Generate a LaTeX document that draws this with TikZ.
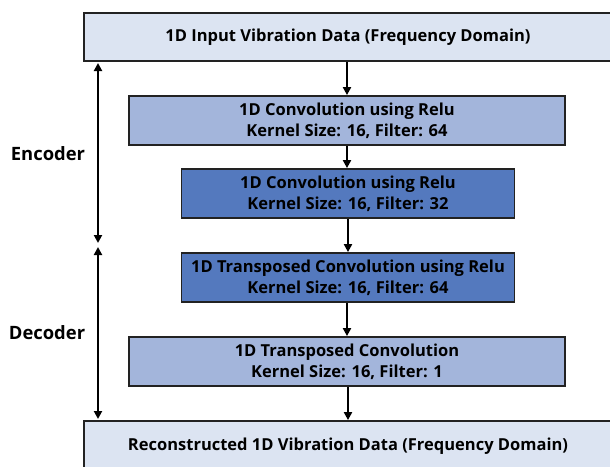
\documentclass[tikz,border=0pt]{standalone}
\usepackage{fontspec}
\setmainfont{Open Sans}
\usetikzlibrary{arrows.meta}
\definecolor{lightbox}{HTML}{DCE4F2}
\definecolor{midbox}{HTML}{A3B5DB}
\definecolor{darkbox}{HTML}{5479BE}
\definecolor{edge}{HTML}{222222}
\tikzset{
  blk/.style={draw=edge, line width=1.8pt, align=center, font=\bfseries\fontsize{16.5}{21}\selectfont, inner sep=0pt, minimum height=49pt},
  iobox/.style={blk, fill=lightbox, minimum width=528pt, minimum height=48pt},
  widebox/.style={blk, fill=midbox, minimum width=436pt},
  narrowbox/.style={blk, fill=darkbox, minimum width=333pt},
  flow/.style={line width=2.3pt, -{Triangle[length=8pt,width=8pt]}},
  span/.style={line width=2.3pt, {Triangle[length=8pt,width=8pt]}-{Triangle[length=8pt,width=8pt]}},
  lbl/.style={font=\bfseries\fontsize{18.4}{21}\selectfont}
}
\begin{document}
\begin{tikzpicture}[x=1pt,y=-1pt]
\useasboundingbox (0,0) rectangle (610,466);
\clip (0,0) rectangle (610,466);
\node[iobox] (in) at (348,37) {1D Input Vibration Data (Frequency Domain)};
\node[widebox] (c1) at (347,120.5) {1D Convolution using Relu\\Kernel Size: 16, Filter: 64};
\node[narrowbox] (c2) at (348,193.5) {1D Convolution using Relu\\Kernel Size: 16, Filter: 32};
\node[narrowbox] (c3) at (348,277.5) {1D Transposed Convolution using Relu\\Kernel Size: 16, Filter: 64};
\node[widebox] (c4) at (347,361.5) {1D Transposed Convolution\\Kernel Size: 16, Filter: 1};
\node[iobox, minimum height=50pt] (out) at (348,446) {Reconstructed 1D Vibration Data (Frequency Domain)};
\draw[flow] (in.south -| 347,0) -- (c1.north -| 347,0);
\draw[flow] (c1.south -| 347,0) -- (c2.north -| 347,0);
\draw[flow] (c2.south -| 348,0) -- (c3.north -| 348,0);
\draw[flow] (c3.south -| 347,0) -- (c4.north -| 347,0);
\draw[flow] (c4.south -| 348,0) -- (out.north -| 348,0);
\coordinate (e1) at (98,63);
\coordinate (e2) at (98,243);
\coordinate (d1) at (98,247);
\coordinate (d2) at (98,419);
\draw[span] (e1) -- (e2);
\draw[span] (d1) -- (d2);
\node[lbl] (enc) at (48,154) {Encoder};
\node[lbl] (dec) at (47,333) {Decoder};
\end{tikzpicture}
\end{document}
